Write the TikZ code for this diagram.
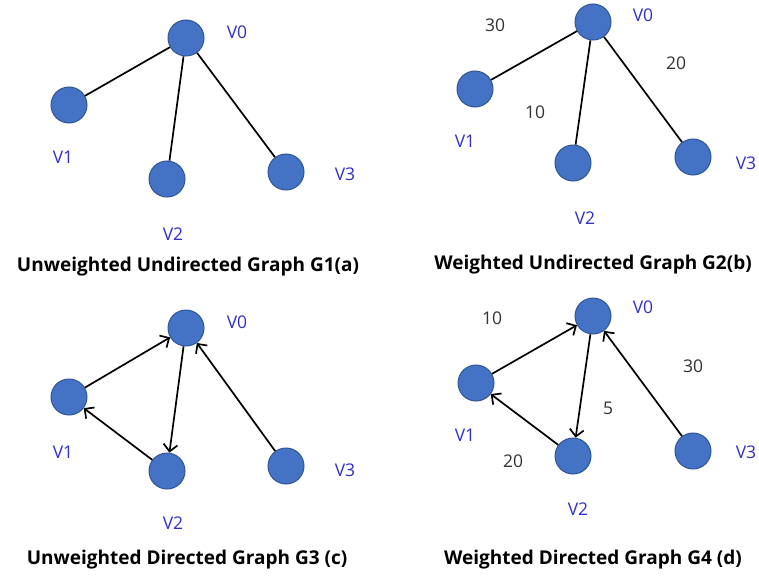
\documentclass[tikz,border=0pt]{standalone}
\usepackage{fontspec}
\setmainfont{Open Sans}
\usetikzlibrary{arrows.meta}
\definecolor{nodefill}{HTML}{4472C4}
\definecolor{nodeedge}{HTML}{2F5597}
\definecolor{lblblue}{HTML}{3030C8}
\definecolor{wtgray}{HTML}{333333}
\begin{document}
\begin{tikzpicture}[x=1pt,y=-1pt,
  vert/.style={circle,fill=nodefill,draw=nodeedge,line width=1pt,minimum size=36pt,inner sep=0pt},
  vlabel/.style={text=lblblue,font=\fontsize{17.5}{20}\selectfont},
  wlabel/.style={text=wtgray,font=\fontsize{17.5}{20}\selectfont},
  gtitle/.style={text=black,font=\bfseries\fontsize{19}{22}\selectfont},
  edge/.style={line width=1.7pt,black},
  arc/.style={line width=1.7pt,black,-{Straight Barb[length=7pt,width=14pt,line width=1.7pt]}}]
\useasboundingbox (0,0) rectangle (759,575);
% G1
\node[vert] (a0) at (186,38) {};
\node[vert] (a1) at (69,105) {};
\node[vert] (a2) at (167,179) {};
\node[vert] (a3) at (286,172) {};
\node[vlabel] (la0) at (237,32) {V0};
\node[vlabel] (la1) at (63,157) {V1};
\node[vlabel] (la2) at (173,234) {V2};
\node[vlabel] (la3) at (345,174) {V3};
\draw[edge] (a0) -- (a1);
\draw[edge] (a0) -- (a2);
\draw[edge] (a0) -- (a3);
\node[gtitle] (ta) at (188,267) {Unweighted Undirected Graph G1(a)};
% G2
\node[vert] (b0) at (593,22) {};
\node[vert] (b1) at (475,89) {};
\node[vert] (b2) at (573,163) {};
\node[vert] (b3) at (693,157) {};
\node[vlabel] (lb0) at (643,15) {V0};
\node[vlabel] (lb1) at (465,141) {V1};
\node[vlabel] (lb2) at (585,218) {V2};
\node[vlabel] (lb3) at (746,163) {V3};
\node[wlabel] (wb1) at (495,25) {30};
\node[wlabel] (wb3) at (676,63) {20};
\node[wlabel] (wb2) at (535,112) {10};
\draw[edge] (b0) -- (b1);
\draw[edge] (b0) -- (b2);
\draw[edge] (b0) -- (b3);
\node[gtitle] (tb) at (593,265) {Weighted Undirected Graph G2(b)};
% G3
\node[vert] (c0) at (186,328) {};
\node[vert] (c1) at (69,397) {};
\node[vert] (c2) at (167,471) {};
\node[vert] (c3) at (286,466) {};
\node[vlabel] (lc0) at (237,322) {V0};
\node[vlabel] (lc1) at (63,452) {V1};
\node[vlabel] (lc2) at (173,523) {V2};
\node[vlabel] (lc3) at (345,470) {V3};
\draw[arc] (c1) -- (c0);
\draw[arc] (c0) -- (c2);
\draw[arc] (c2) -- (c1);
\draw[arc] (c3) -- (c0);
\node[gtitle] (tc) at (187,560) {Unweighted Directed Graph G3 (c)};
% G4
\node[vert] (d0) at (593,316) {};
\node[vert] (d1) at (476,383) {};
\node[vert] (d2) at (573,456) {};
\node[vert] (d3) at (693,451) {};
\node[vlabel] (ld0) at (643,307) {V0};
\node[vlabel] (ld1) at (465,435) {V1};
\node[vlabel] (ld2) at (578,509) {V2};
\node[vlabel] (ld3) at (746,452) {V3};
\node[wlabel] (wd1) at (492,318) {10};
\node[wlabel] (wd3) at (693,366) {30};
\node[wlabel] (wd2) at (608,408) {5};
\node[wlabel] (wd4) at (513,461) {20};
\draw[arc] (d1) -- (d0);
\draw[arc] (d0) -- (d2);
\draw[arc] (d2) -- (d1);
\draw[arc] (d3) -- (d0);
\node[gtitle] (td) at (593,560) {Weighted Directed Graph G4 (d)};
\end{tikzpicture}
\end{document}
